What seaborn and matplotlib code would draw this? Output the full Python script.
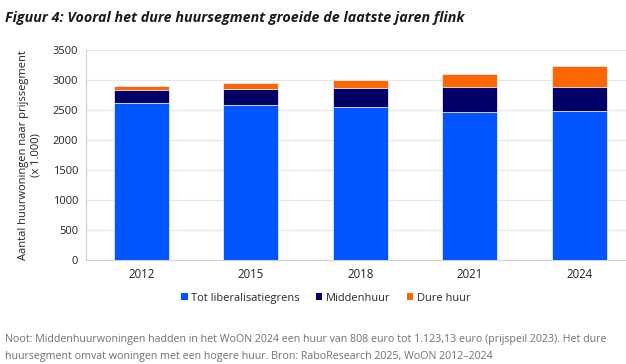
import numpy as np
import pandas as pd
import matplotlib
matplotlib.use('Agg')
import matplotlib.pyplot as plt
import seaborn as sns
from matplotlib.patches import Patch

years = ['2012', '2015', '2018', '2021', '2024']
tot_lib = [2610, 2585, 2540, 2470, 2475]
midden = [220, 265, 320, 415, 403]
dure = [70, 90, 140, 215, 360]

series = ['Tot liberalisatiegrens', 'Middenhuur', 'Dure huur']
colors = ['#0055FF', '#000066', '#FF6600']

sns.set_style('white')
plt.rcParams['font.family'] = ['Open Sans', 'DejaVu Sans']

df = pd.DataFrame({'jaar': years, 'blue': tot_lib, 'navy': midden, 'orange': dure})
df['lvl1'] = df['blue']
df['lvl2'] = df['blue'] + df['navy']
df['lvl3'] = df['lvl2'] + df['orange']

fig = plt.figure(figsize=(6.26, 3.64), dpi=100)
# plot area runs slightly past the right edge, like the cropped original
ax = fig.add_axes([0.138, 0.286, 0.875, 0.577])

for col, c in [('lvl3', colors[2]), ('lvl2', colors[1]), ('lvl1', colors[0])]:
    sns.barplot(data=df, x='jaar', y=col, color=c, width=0.5, ax=ax,
                edgecolor='#e8eefc', linewidth=0.6, saturation=1, zorder=3)

ax.set_ylim(0, 3500)
ax.set_xlim(-0.5, 4.5)
ax.set_yticks(np.arange(0, 3501, 500))
ax.yaxis.grid(True, color='#e6e6e6', linewidth=0.9, zorder=0)
ax.set_axisbelow(True)
for s in ['top', 'right']:
    ax.spines[s].set_visible(False)
ax.spines['left'].set_color('#d0d0d0')
ax.spines['bottom'].set_color('#d0d0d0')
ax.tick_params(axis='y', length=3, color='#d0d0d0', labelsize=8, labelcolor='#222222', pad=3)
ax.tick_params(axis='x', which='major', length=0, labelsize=8.3, labelcolor='#222222', pad=6)
ax.set_xticks(np.arange(0.5, 4.5, 1), minor=True)
ax.tick_params(axis='x', which='minor', length=3, color='#d0d0d0')
ax.set_xlabel('')
ax.set_ylabel('Aantal huurwoningen naar prijssegment\n(x 1.000)', fontsize=8, color='#222222', labelpad=8)

handles = [Patch(facecolor=c, edgecolor='none') for c in colors]
fig.legend(handles, series, loc='center', bbox_to_anchor=(0.52, 0.181), ncol=3,
           frameon=False, fontsize=7.9, handlelength=0.6, handleheight=0.6,
           handletextpad=0.3, columnspacing=1.5)

fig.text(0.008, 0.95, 'Figuur 4: Vooral het dure huursegment groeide de laatste jaren flink',
         fontsize=10.3, fontweight='bold', fontstyle='italic', color='#1a1a1a', va='center')
fig.text(0.008, 0.068, 'Noot: Middenhuurwoningen hadden in het WoON 2024 een huur van 808 euro tot 1.123,13 euro (prijspeil 2023). Het dure',
         fontsize=7.7, color='#707070', va='center')
fig.text(0.008, 0.02, 'huursegment omvat woningen met een hogere huur. Bron: RaboResearch 2025, WoON 2012\u20132024',
         fontsize=7.7, color='#707070', va='center')

fig.savefig('out.png', dpi=100)
